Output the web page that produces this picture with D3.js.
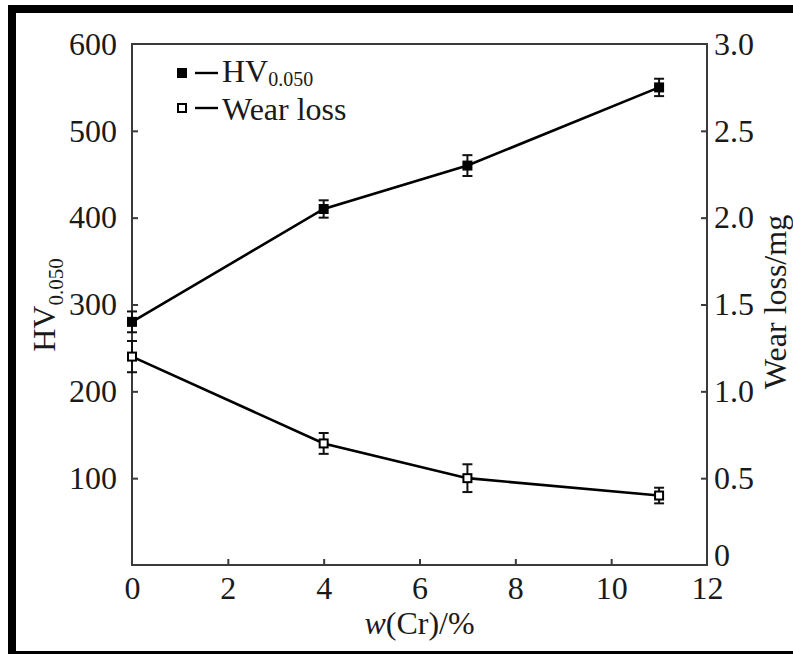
<!DOCTYPE html>
<html>
<head>
<meta charset="utf-8">
<script src="https://cdn.jsdelivr.net/npm/d3@7"></script>
<style>
  body { margin: 0; background: #fff; }
  svg { display: block; }
  text { font-family: "Liberation Serif", "Times New Roman", "DejaVu Serif", serif; fill: #1a1a1a; }
</style>
</head>
<body>
<svg id="chart" width="793" height="654"></svg>
<script>
// Cr content (mass %)
const crContent = [0, 4, 7, 11];
// Microhardness HV0.050 and its error
const hardness = [280, 410, 460, 550];
const hardnessErr = [12, 10, 12, 10];
// Wear loss (mg) and its error
const wearLoss = [1.2, 0.7, 0.5, 0.4];
const wearErr = [0.09, 0.06, 0.08, 0.045];

const xTicks = [0, 2, 4, 6, 8, 10, 12];
const leftTicks = [100, 200, 300, 400, 500, 600];
const rightTicks = [0, 0.5, 1.0, 1.5, 2.0, 2.5, 3.0];

const svg = d3.select("#chart");
const W = 793, H = 654;
const serif = '"Liberation Serif", "Times New Roman", "DejaVu Serif", serif';

// outer black frame
svg.append("rect").attr("x", 0).attr("y", 0).attr("width", W).attr("height", H).attr("fill", "#fff");
svg.append("rect").attr("x", 8).attr("y", 5).attr("width", 8).attr("height", H - 5).attr("fill", "#000");
svg.append("rect").attr("x", 8).attr("y", 5).attr("width", W - 8).attr("height", 8).attr("fill", "#000");
svg.append("rect").attr("x", 8).attr("y", 651).attr("width", W - 8).attr("height", 3).attr("fill", "#000");

const L = 132, R = 707, T = 44, B = 565;
const x = d3.scaleLinear().domain([0, 12]).range([L, R]);
const yL = d3.scaleLinear().domain([0, 600]).range([B, T]);
const yR = d3.scaleLinear().domain([0, 3]).range([B, T]);

const axisColor = "#3a3a3a";
const fs = 32;

// plot box
svg.append("rect").attr("x", L).attr("y", T).attr("width", R - L).attr("height", B - T)
  .attr("fill", "none").attr("stroke", axisColor).attr("stroke-width", 2);

function styleAxis(g) {
  g.attr("font-family", serif);
  g.select(".domain").remove();
  g.selectAll(".tick line").attr("stroke", axisColor).attr("stroke-width", 2);
  g.selectAll(".tick text").style("font-size", fs + "px").attr("fill", "#1a1a1a")
    .attr("font-family", serif).style("font-family", serif);
}

// bottom axis, ticks inward
svg.append("g").attr("transform", `translate(0,${B})`)
  .call(d3.axisBottom(x).tickValues(xTicks).tickSize(-6).tickPadding(11).tickFormat(d3.format("d")))
  .call(styleAxis)
  .call(g => g.selectAll(".tick line").filter(d => d === 0 || d === 12).remove());

// left axis
svg.append("g").attr("transform", `translate(${L},0)`)
  .call(d3.axisLeft(yL).tickValues(leftTicks).tickSize(-6).tickPadding(15).tickFormat(d3.format("d")))
  .call(styleAxis)
  .call(g => g.selectAll(".tick line").filter(d => d === 600).remove());

// right axis
svg.append("g").attr("transform", `translate(${R},0)`)
  .call(d3.axisRight(yR).tickValues(rightTicks).tickSize(-6).tickPadding(7)
    .tickFormat(d => d === 0 ? "0" : d3.format(".1f")(d)))
  .call(styleAxis)
  .call(g => {
    g.selectAll(".tick line").filter(d => d === 0 || d === 3).remove();
    g.selectAll(".tick text").filter(d => d === 0).attr("dy", "0.0em");
  });

// series lines
const line = d3.line();
const hvPts = crContent.map((c, i) => [x(c), yL(hardness[i])]);
const wlPts = crContent.map((c, i) => [x(c), yR(wearLoss[i])]);

svg.append("path").attr("d", line(hvPts)).attr("fill", "none").attr("stroke", "#000").attr("stroke-width", 2.6);
svg.append("path").attr("d", line(wlPts)).attr("fill", "none").attr("stroke", "#000").attr("stroke-width", 2.6);

// error bars
function errBars(yScale, vals, errs) {
  const g = svg.append("g").attr("stroke", "#111").attr("stroke-width", 2);
  crContent.forEach((c, i) => {
    const cx = x(c), y1 = yScale(vals[i] + errs[i]), y0 = yScale(vals[i] - errs[i]);
    g.append("line").attr("x1", cx).attr("x2", cx).attr("y1", y1).attr("y2", y0);
    g.append("line").attr("x1", cx - 5).attr("x2", cx + 5).attr("y1", y1).attr("y2", y1);
    g.append("line").attr("x1", cx - 5).attr("x2", cx + 5).attr("y1", y0).attr("y2", y0);
  });
}
errBars(yL, hardness, hardnessErr);
errBars(yR, wearLoss, wearErr);

// markers
const ms = 10;
svg.append("g").selectAll("rect").data(crContent).join("rect")
  .attr("x", (d) => x(d) - ms / 2).attr("y", (d, i) => yL(hardness[i]) - ms / 2)
  .attr("width", ms).attr("height", ms).attr("fill", "#000");
svg.append("g").selectAll("rect").data(crContent).join("rect")
  .attr("x", (d) => x(d) - ms / 2 + 1).attr("y", (d, i) => yR(wearLoss[i]) - ms / 2 + 1)
  .attr("width", ms - 2).attr("height", ms - 2).attr("fill", "#fff").attr("stroke", "#000").attr("stroke-width", 2);

// legend
const lg = svg.append("g");
lg.append("rect").attr("x", 177).attr("y", 68).attr("width", 10).attr("height", 10).attr("fill", "#000");
lg.append("line").attr("x1", 195).attr("x2", 218).attr("y1", 73).attr("y2", 73).attr("stroke", "#000").attr("stroke-width", 2.4);
const t1 = lg.append("text").attr("x", 222).attr("y", 82).style("font-size", fs + "px");
t1.append("tspan").text("HV");
t1.append("tspan").attr("dy", 4).style("font-size", "20px").text("0.050");
lg.append("rect").attr("x", 178).attr("y", 104).attr("width", 8).attr("height", 8).attr("fill", "#fff").attr("stroke", "#000").attr("stroke-width", 2);
lg.append("line").attr("x1", 195).attr("x2", 218).attr("y1", 108).attr("y2", 108).attr("stroke", "#000").attr("stroke-width", 2.4);
lg.append("text").attr("x", 222).attr("y", 120).style("font-size", fs + "px").text("Wear loss");

// axis titles
const xt = svg.append("text").attr("x", x(6)).attr("y", 634).attr("text-anchor", "middle").style("font-size", fs + "px");
xt.append("tspan").style("font-style", "italic").text("w");
xt.append("tspan").text("(Cr)/%");

const yt = svg.append("text").attr("transform", "translate(55,305) rotate(-90)").attr("text-anchor", "middle").style("font-size", fs + "px");
yt.append("tspan").text("HV");
yt.append("tspan").attr("dy", 8).style("font-size", "21px").text("0.050");

svg.append("text").attr("transform", "translate(786,302) rotate(-90)").attr("text-anchor", "middle")
  .style("font-size", fs + "px").text("Wear loss/mg");
</script>
</body>
</html>
